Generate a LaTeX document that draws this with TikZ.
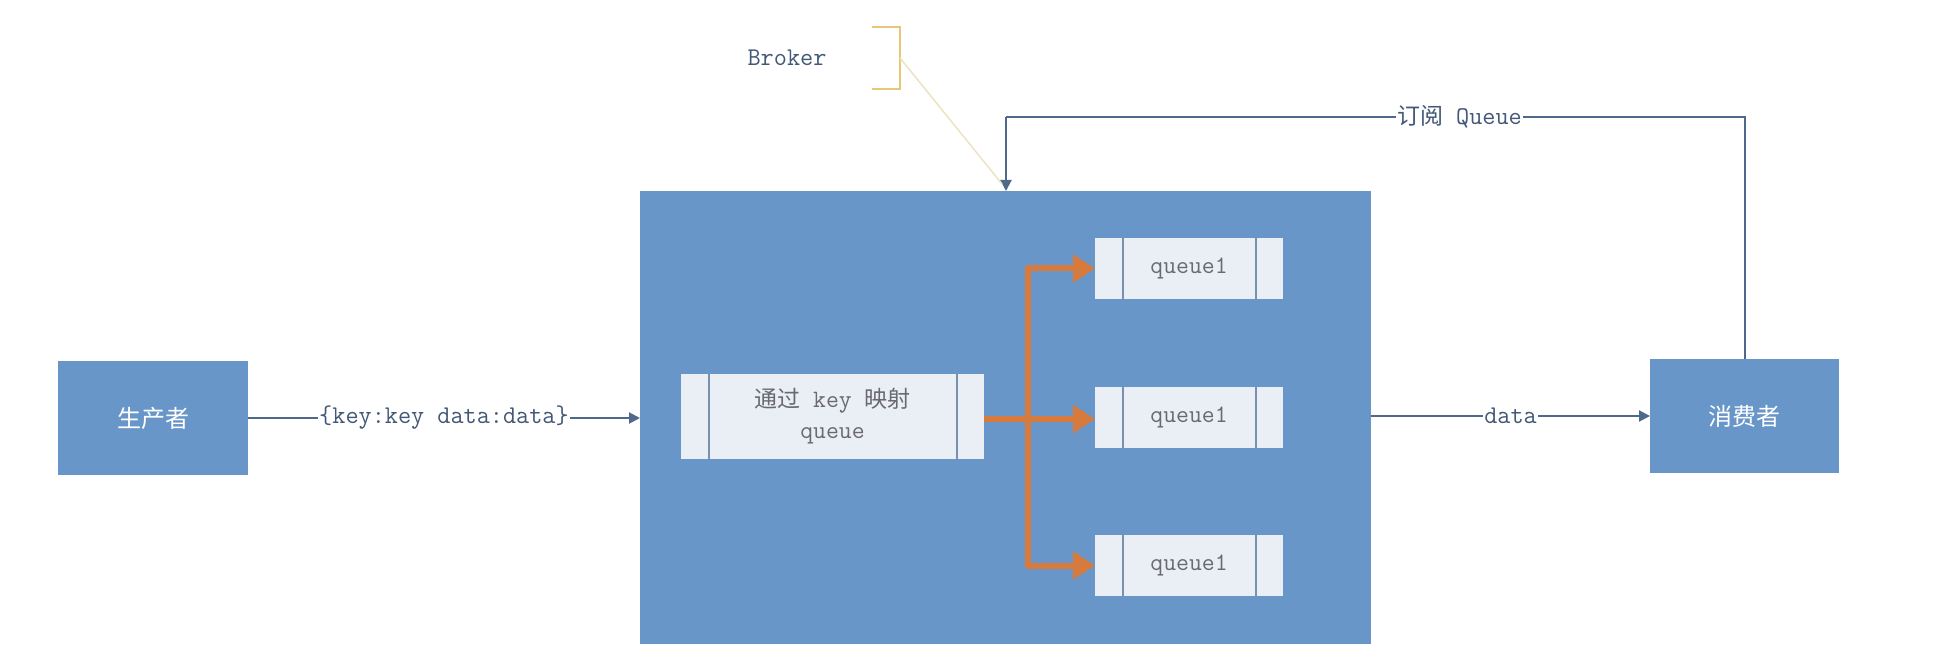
\documentclass[tikz,border=0pt]{standalone}
\usepackage{fontspec}
\newfontfamily\cjk{Noto Sans CJK SC}
\usetikzlibrary{arrows.meta}
\definecolor{boxblue}{RGB}{104,150,201}
\definecolor{qfill}{RGB}{234,238,245}
\definecolor{qline}{RGB}{120,145,175}
\definecolor{linec}{RGB}{78,105,138}
\definecolor{labc}{RGB}{66,88,118}
\definecolor{orng}{RGB}{214,122,62}
\definecolor{goldc}{RGB}{232,200,120}
\definecolor{palec}{RGB}{236,226,190}
\definecolor{qtext}{RGB}{105,105,110}
\tikzset{
  bluebox/.style={fill=boxblue, draw=none, inner sep=0pt, outer sep=0pt, text=white,
    font=\cjk\fontsize{24}{28}\selectfont},
  qbox/.style={fill=qfill, draw=none, inner sep=0pt, outer sep=0pt, text=qtext,
    font=\ttfamily\fontsize{25}{30}\selectfont, align=center},
  qsep/.style={draw=qline, line width=1.2pt},
  bconn/.style={draw=linec, line width=2pt, -{Triangle[length=11pt,width=11pt]}},
  bline/.style={draw=linec, line width=2pt},
  oarrow/.style={draw=orng, line width=6pt, line join=round, -{Triangle[length=22pt,width=27pt]}},
  lab/.style={fill=white, inner sep=1pt, text=labc, font=\ttfamily\fontsize{25.5}{30}\selectfont},
}
\begin{document}
\begin{tikzpicture}[x=1pt,y=-1pt]
\useasboundingbox (0,0) rectangle (1956,660);
\fill[white] (0,0) rectangle (1956,660);
% main boxes
\node[bluebox, minimum width=190pt, minimum height=114pt] (prod) at (153,418) {生产者};
\node[bluebox, minimum width=189pt, minimum height=114pt] (cons) at (1744.5,416) {消费者};
\node[bluebox, minimum width=731pt, minimum height=453pt] (broker) at (1005.5,417.5) {};
% mapping box
\node[qbox, minimum width=303pt, minimum height=85pt] (map) at (832.5,416.5)
  {{\cjk\fontsize{23}{30}\selectfont 通过} key {\cjk\fontsize{23}{30}\selectfont 映射}\\[1pt]queue};
\draw[qsep] ([xshift=28pt]map.north west) -- ([xshift=28pt]map.south west);
\draw[qsep] ([xshift=-27pt]map.north east) -- ([xshift=-27pt]map.south east);
% queues
\foreach \n/\y in {q1/268.5, q2/417.5, q3/565.5}{
  \node[qbox, minimum width=188pt, minimum height=61pt] (\n) at (1189,\y) {queue1};
  \draw[qsep] ([xshift=28pt]\n.north west) -- ([xshift=28pt]\n.south west);
  \draw[qsep] ([xshift=-27pt]\n.north east) -- ([xshift=-27pt]\n.south east);
}
% orange routing arrows
\coordinate (trunk) at (1028,419);
\draw[oarrow] (map.east |- trunk) -- (q2.west |- trunk);
\draw[oarrow] (trunk) |- (q1.west);
\draw[oarrow] (trunk) |- (q3.west);
% producer -> broker
\draw[bconn] (prod.east) -- node[lab] {\{key:key data:data\}} (prod.east -| broker.west);
% broker -> consumer
\draw[bconn] (broker.east |- cons.west) -- node[lab] {data} (cons.west);
% subscribe
\coordinate (top) at (1006,117);
\draw[bline] (cons.north) -- (cons.north |- top) -- node[lab, pos=0.386] {{\cjk\fontsize{23}{28}\selectfont 订阅} Queue} (top);
\draw[bconn] (top) -- (top |- broker.north);
% Broker callout
\node[text=labc, font=\ttfamily\fontsize{25.5}{30}\selectfont, inner sep=0pt] (blabel) at (787,58) {Broker};
\draw[draw=goldc, line width=1.6pt] (872,27) -- (900,27) -- (900,89) -- (872,89);
\coordinate (bcall) at (900,58);
\coordinate (btip) at (1002,184);
\draw[draw=palec, line width=1.4pt] (bcall) -- (btip);
\end{tikzpicture}
\end{document}
